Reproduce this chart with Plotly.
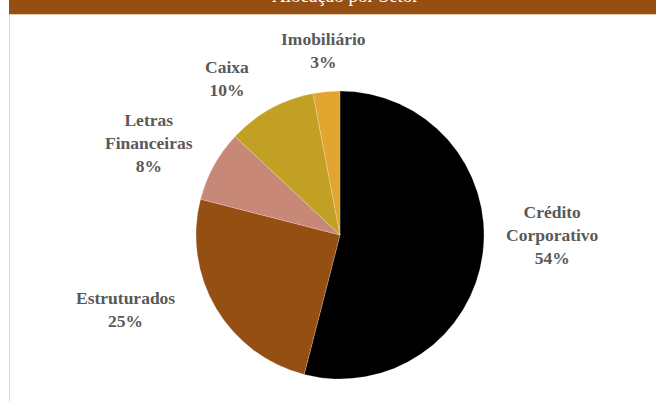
import plotly.graph_objects as go

# ---- data ----
categories = ["Crédito Corporativo", "Estruturados", "Letras Financeiras", "Caixa", "Imobiliário"]
values = [54, 25, 8, 10, 3]
label_text = ["Crédito<br>Corporativo", "Estruturados", "Letras<br>Financeiras", "Caixa", "Imobiliário"]
title_text = "Alocação por Setor"

# ---- styles / layout ----
colors = ["#000000", "#954F13", "#C88878", "#C1A024", "#E1A530"]
W, H = 656, 401
# label block centres in pixels (layout, not data)
label_pos_px = [(552, 235), (125, 309), (149, 143), (227, 78), (323, 50)]

fig = go.Figure()
fig.add_trace(go.Pie(
    labels=categories,
    values=values,
    sort=False,
    direction="clockwise",
    rotation=0,
    marker=dict(colors=colors, line=dict(color="rgba(255,255,255,0.35)", width=0.6)),
    textinfo="none",
    hoverinfo="label+percent",
    showlegend=False,
    domain=dict(x=[196 / W, 484 / W], y=[1 - 379 / H, 1 - 91 / H]),
))

total = sum(values)
annotations = []
for txt, v, (px, py) in zip(label_text, values, label_pos_px):
    pct = round(100 * v / total)
    annotations.append(dict(
        text=f"<b>{txt}<br>{pct}%</b>",
        x=px / W, y=1 - py / H, xref="paper", yref="paper",
        xanchor="center", yanchor="middle", showarrow=False,
        font=dict(family="Liberation Serif", size=17.5, color="#595959"),
        align="center",
    ))

annotations.append(dict(
    text=title_text,
    x=345 / W, y=1 + 5 / H, xref="paper", yref="paper",
    xanchor="center", yanchor="middle", showarrow=False,
    font=dict(family="Liberation Serif", size=19, color="#FFFFFF"),
))

shapes = [
    dict(type="rect", xref="paper", yref="paper", x0=9 / W, x1=1.01, y0=1 - 14 / H, y1=1.05,
         fillcolor="#954F13", line=dict(width=0), layer="below"),
    dict(type="line", xref="paper", yref="paper", x0=9 / W, x1=1.01, y0=1 - 14.5 / H, y1=1 - 14.5 / H,
         line=dict(color="#E3C7A8", width=1), layer="below"),
    dict(type="line", xref="paper", yref="paper", x0=9.5 / W, x1=9.5 / W, y0=-0.01, y1=1 - 15 / H,
         line=dict(color="#D9D9D9", width=1), layer="below"),
]

fig.update_layout(
    width=W, height=H,
    margin=dict(l=0, r=0, t=0, b=0),
    paper_bgcolor="#FFFFFF",
    plot_bgcolor="#FFFFFF",
    annotations=annotations,
    shapes=shapes,
)

fig.write_html("out.html")
